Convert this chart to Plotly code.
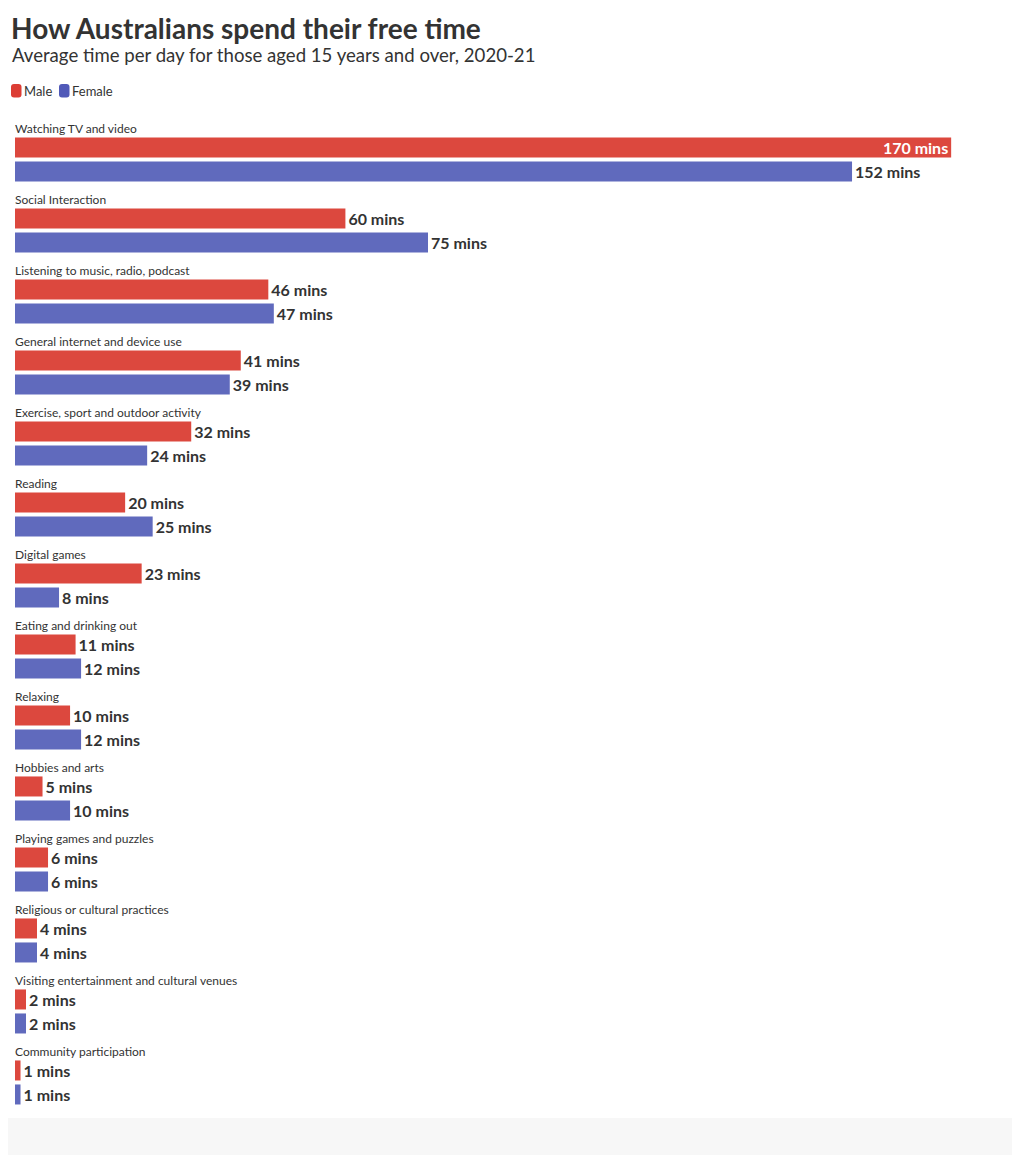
import plotly.graph_objects as go

categories = [
    "Watching TV and video",
    "Social Interaction",
    "Listening to music, radio, podcast",
    "General internet and device use",
    "Exercise, sport and outdoor activity",
    "Reading",
    "Digital games",
    "Eating and drinking out",
    "Relaxing",
    "Hobbies and arts",
    "Playing games and puzzles",
    "Religious or cultural practices",
    "Visiting entertainment and cultural venues",
    "Community participation",
]
male = [170, 60, 46, 41, 32, 20, 23, 11, 10, 5, 6, 4, 2, 1]
female = [152, 75, 47, 39, 24, 25, 8, 12, 12, 10, 6, 4, 2, 1]
series_names = ["Male", "Female"]

RED = "#dc483e"
BLUE = "#606abd"
LEG_RED = "#dc3d34"
LEG_BLUE = "#5059b8"
FONT = "Lato"
DARK = "#333333"

# geometry (figure placed with an 8px page margin)
FIG_W, FIG_H = 1012, 1147
ML, MR, MT, MB = 7, 0, 111, 42
PW = FIG_W - ML - MR
PH = FIG_H - MT - MB
OFF = 8


def px_x(x):
    return (x - OFF - ML) / PW


def px_y(y):
    return 1 - (y - OFF - MT) / PH


def rounded_rect(x0, x1, y0, y1, r):
    X0, X1 = px_x(x0), px_x(x1)
    Y0, Y1 = px_y(y0), px_y(y1)
    rx, ry = r / PW, r / PH
    return (f"M {X0+rx},{Y0} L {X1-rx},{Y0} Q {X1},{Y0} {X1},{Y0-ry} "
            f"L {X1},{Y1+ry} Q {X1},{Y1} {X1-rx},{Y1} L {X0+rx},{Y1} "
            f"Q {X0},{Y1} {X0},{Y1+ry} L {X0},{Y0-ry} Q {X0},{Y0} {X0+rx},{Y0} Z")


max_val = max(male + female)
male_pos = ["inside" if v == max_val else "outside" for v in male]
female_pos = ["inside" if v == max_val else "outside" for v in female]

fig = go.Figure()
fig.add_trace(go.Bar(
    y=categories, x=male, orientation="h", name=series_names[0],
    marker=dict(color=RED, line=dict(width=0)),
    offset=-0.24, width=0.282,
    text=[f"{v} mins" for v in male], textposition=male_pos,
    insidetextanchor="end", constraintext="none",
    insidetextfont=dict(color="white", size=16, family=FONT, weight="bold"),
    outsidetextfont=dict(color=DARK, size=16, family=FONT, weight="bold"),
    cliponaxis=False, hoverinfo="skip", showlegend=False,
))
fig.add_trace(go.Bar(
    y=categories, x=female, orientation="h", name=series_names[1],
    marker=dict(color=BLUE, line=dict(width=0)),
    offset=0.098, width=0.282,
    text=[f"{v} mins" for v in female], textposition=female_pos,
    insidetextanchor="end", constraintext="none",
    insidetextfont=dict(color="white", size=16, family=FONT, weight="bold"),
    outsidetextfont=dict(color=DARK, size=16, family=FONT, weight="bold"),
    cliponaxis=False, hoverinfo="skip", showlegend=False,
))

annotations = []
for c in categories:
    annotations.append(dict(
        x=0, y=c, xref="x", yref="y", text=c, showarrow=False,
        xanchor="left", yanchor="middle", yshift=26, xshift=-2,
        font=dict(size=12, color=DARK, family=FONT),
    ))
annotations.append(dict(
    x=px_x(9), y=px_y(28), xref="paper", yref="paper",
    text="<b>How Australians spend their free time</b>", showarrow=False,
    xanchor="left", yanchor="middle",
    font=dict(size=28, color=DARK, family=FONT),
))
annotations.append(dict(
    x=px_x(10), y=px_y(55), xref="paper", yref="paper",
    text="Average time per day for those aged 15 years and over, 2020-21",
    showarrow=False, xanchor="left", yanchor="middle",
    font=dict(size=18.6, color=DARK, family=FONT),
))
# legend
for name, tx in zip(series_names, [22, 70]):
    annotations.append(dict(
        x=px_x(tx), y=px_y(91), xref="paper", yref="paper", text=name,
        showarrow=False, xanchor="left", yanchor="middle",
        font=dict(size=13, color=DARK, family=FONT),
    ))

shapes = [
    dict(type="rect", xref="paper", yref="paper",
         x0=px_x(0), x1=px_x(1020), y0=px_y(1118), y1=px_y(1160),
         fillcolor="#f7f7f7", line=dict(width=0), layer="below"),
    dict(type="path", xref="paper", yref="paper",
         path=rounded_rect(11, 21.5, 84, 97.5, 3), fillcolor=LEG_RED,
         line=dict(width=0)),
    dict(type="path", xref="paper", yref="paper",
         path=rounded_rect(59, 69.5, 84, 97.5, 3), fillcolor=LEG_BLUE,
         line=dict(width=0)),
]

fig.update_layout(
    width=FIG_W, height=FIG_H,
    margin=dict(l=ML, r=MR, t=MT, b=MB, pad=0),
    paper_bgcolor="white", plot_bgcolor="white",
    barmode="overlay",
    showlegend=False,
    xaxis=dict(range=[0, 182.5], showticklabels=False, showgrid=False,
               zeroline=False, showline=False, fixedrange=True),
    yaxis=dict(type="category", categoryorder="array", categoryarray=categories,
               range=[13.5, -0.5], showticklabels=False, showgrid=False,
               zeroline=False, showline=False, fixedrange=True),
    annotations=annotations,
    shapes=shapes,
    uniformtext=dict(mode=False),
)

fig.write_html("out.html")
